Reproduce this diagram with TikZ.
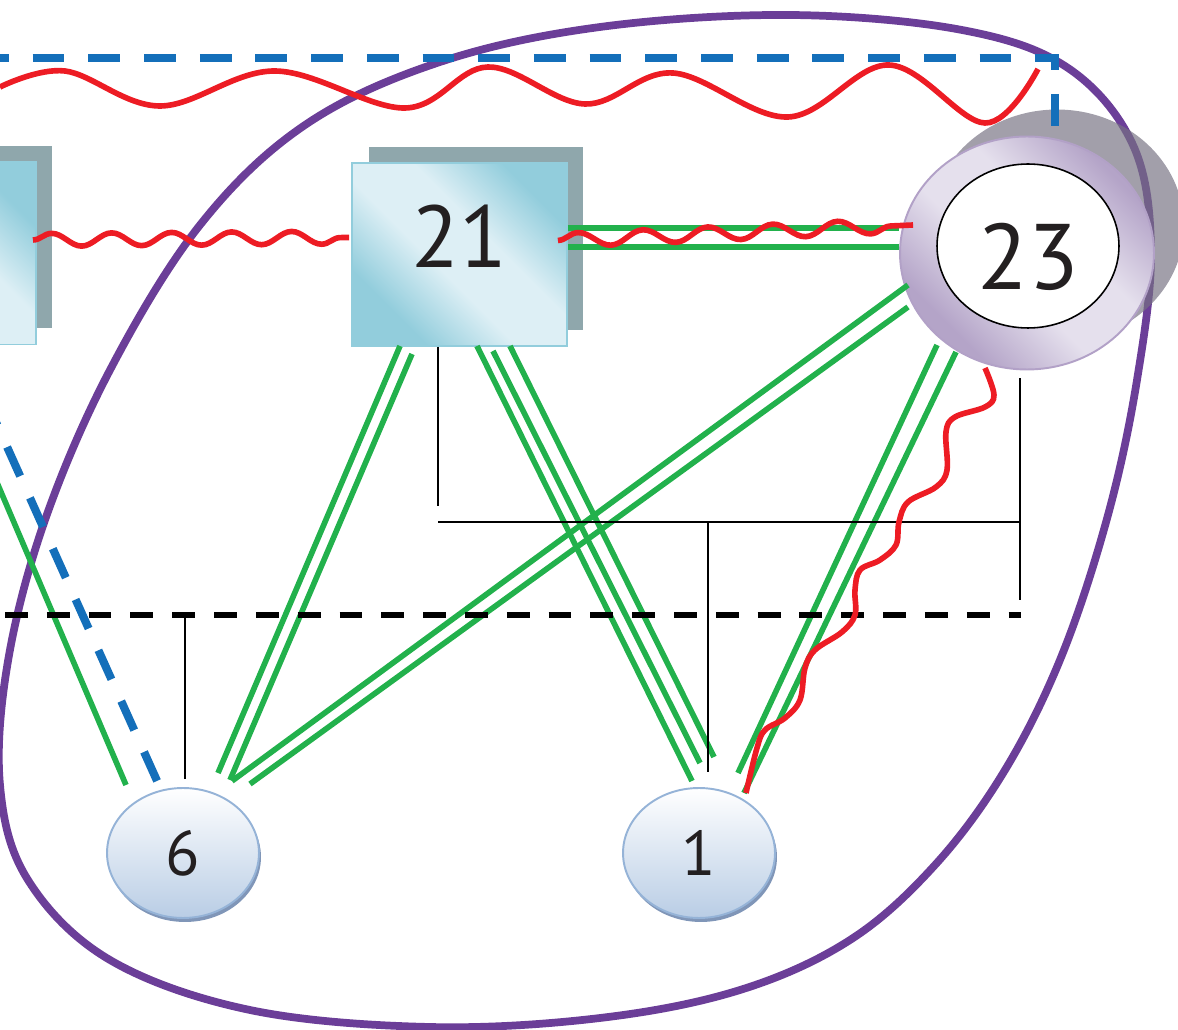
\documentclass[tikz,border=0pt]{standalone}
\usepackage{fontspec}
\setmainfont{PT Sans}
\usepackage{tikz}
\usetikzlibrary{calc,shapes,shadows,decorations.pathmorphing,positioning}

\definecolor{hullc}{RGB}{107,62,152}
\definecolor{vlanc}{RGB}{20,111,186}
\definecolor{wavec}{RGB}{237,28,36}
\definecolor{linkc}{RGB}{34,177,76}
\definecolor{ink}{RGB}{35,31,32}
\definecolor{boxlight}{RGB}{221,239,245}
\definecolor{boxdark}{RGB}{146,205,220}
\definecolor{boxshade}{RGB}{143,167,172}
\definecolor{ringlight}{RGB}{229,224,237}
\definecolor{ringdark}{RGB}{180,164,200}
\definecolor{ringedge}{RGB}{178,161,199}
\definecolor{ringshade}{RGB}{118,113,130}
\definecolor{hostfill}{RGB}{185,205,229}
\definecolor{hostedge}{RGB}{149,179,215}
\definecolor{hostshade}{RGB}{128,150,184}

\pgfdeclarehorizontalshading{glassteal}{100bp}{color(0bp)=(boxdark); color(28bp)=(boxdark); color(44bp)=(boxlight); color(58bp)=(boxlight); color(74bp)=(boxdark); color(100bp)=(boxdark)}
\pgfdeclarehorizontalshading{glasspurple}{100bp}{color(0bp)=(ringdark); color(28bp)=(ringdark); color(44bp)=(ringlight); color(58bp)=(ringlight); color(74bp)=(ringdark); color(100bp)=(ringdark)}

\begin{document}
\begin{tikzpicture}[x=0.02cm,y=-0.02cm,
	box/.style={rectangle, draw=boxdark, line width=1.1pt, shading=glassteal, shading angle=45,
		minimum width=4.3cm, minimum height=3.66cm,
		general shadow={fill=boxshade, shadow xshift=0.33cm, shadow yshift=0.32cm}},
	ring/.style={ellipse, draw=ringedge, line width=1.1pt, shading=glasspurple, shading angle=45,
		minimum width=5.08cm, minimum height=4.66cm,
		general shadow={fill=ringshade, fill opacity=0.68, shadow xshift=0.6cm, shadow yshift=0.54cm}},
	ringin/.style={ellipse, draw=black, line width=0.9pt, fill=white, minimum width=3.64cm, minimum height=3.28cm},
	host/.style={ellipse, draw=hostedge, line width=1.1pt, top color=white, bottom color=hostfill,
		minimum width=3.04cm, minimum height=2.6cm, text=ink, font=\fontsize{36}{40}\selectfont,
		general shadow={fill=hostshade, shadow xshift=0.04cm, shadow yshift=-0.08cm}},
	lbl/.style={text=ink, font=\fontsize{50}{60}\selectfont},
	hull/.style={draw=hullc, line width=4.4pt},
	vlan/.style={draw=vlanc, line width=4.6pt, dash pattern=on 18.1pt off 13.6pt},
	grn/.style={draw=linkc, line width=3.2pt},
	wave/.style={draw=wavec, line width=3.2pt},
	bus/.style={draw=black, line width=3.7pt, dash pattern=on 13pt off 10.8pt},
	wire/.style={draw=black, line width=0.9pt}]
	\useasboundingbox (0,0) rectangle (1178,1030);
	\clip (0,0) rectangle (1178,1030);

	\draw[hull] plot[smooth cycle, tension=0.6] coordinates {(790,15) (962,30) (1068,68) (1133,145)
		(1151,250) (1137,380) (1108,515) (1062,655) (1005,770) (935,865) (850,940) (740,990)
		(600,1018) (430,1027) (250,1010) (110,960) (28,880) (0,785) (8,661) (45,520)
		(110,370) (200,225) (305,125) (440,62) (600,27)};

	\node[box] (bleft) at (-71.5,253) {};
	\node[box] (b21) at (459.5,254.5) {};
	\node[lbl] at ([yshift=0.37cm]b21.center) {21};
	\node[ring] (n23) at (1027,253) {};
	\node[ringin] (n23in) at (1028,246) {};
	\node[lbl, font=\fontsize{53}{60}\selectfont] at ([yshift=-0.22cm]n23in.center) {23};
	\node[host] (n6) at (183,853) {6};
	\node[host] (n1) at (699,853) {1};

	\coordinate (vlanL) at (-23,58);
	\draw[vlan] (vlanL) -| ([shift={(28,-3)}]n23.north);
	\draw[vlan] ([shift={(33,0)}]bleft.south) -- ([shift={(-25,-70)}]n6.center);

	\draw[grn] ([shift={(10,0)}]bleft.south) -- ([shift={(-57,-68)}]n6.center);
	\draw[grn] ([shift={(-59.5,91.5)}]b21.center) -- ([shift={(35,-80)}]n6.center);
	\draw[grn] ([shift={(-47.5,99.5)}]b21.center) -- ([shift={(47,-73)}]n6.center);
	\draw[grn] ([shift={(-119,32)}]n23.center) -- ([shift={(49,-72)}]n6.center);
	\draw[grn] ([shift={(-119,54)}]n23.center) -- ([shift={(67,-69)}]n6.center);
	\draw[grn] ([shift={(17.5,91.5)}]b21.center) -- ([shift={(-7,-72)}]n1.center);
	\draw[grn] ([shift={(33.5,96.5)}]b21.center) -- ([shift={(1,-90)}]n1.center);
	\draw[grn] ([shift={(50.5,91.5)}]b21.center) -- ([shift={(15,-96)}]n1.center);
	\draw[grn] ([shift={(-90,92)}]n23.center) -- ([shift={(39,-80)}]n1.center);
	\draw[grn] ([shift={(-71,99)}]n23.center) -- ([shift={(45,-60)}]n1.center);
	\draw[grn] ([shift={(0,-26.5)}]b21.east) -- ([shift={(0,-25)}]n23.west);
	\draw[grn] ([shift={(0,-7.5)}]b21.east) -- ([shift={(0,-6)}]n23.west);

	\coordinate (busL) at (5,615);
	\coordinate (busR) at (1021,615);
	\draw[bus] (busL) -- (busR);
	\draw[wire] ([shift={(-21.5,0)}]b21.south) -- ++(0,159);
	\draw[wire] (438,522) -- (1020,522);
	\draw[wire] ([shift={(-7,8)}]n23.south) -- (1020,600);
	\draw[wire] (708,522) -- ([shift={(9,-15)}]n1.north);
	\draw[wire] ([shift={(2,-8)}]n6.north) -- (185,617);

	\draw[wave] plot[smooth, tension=0.6] coordinates {(0,87) (65,71) (160,106) (275,71) (405,108)
		(488,67) (585,104) (673,73) (788,117) (889,65) (985,123) (1038,69)};
	\draw[wave, decorate, decoration={snake, segment length=1.2cm, amplitude=0.13cm}]
		([shift={(-4,-13)}]bleft.east) -- ([shift={(-2,-17)}]b21.west);
	\draw[wave, decorate, decoration={snake, segment length=1.3cm, amplitude=0.14cm}]
		([shift={(-10,-14)}]b21.east) -- ([shift={(14,-28)}]n23.west);
	\coordinate (wA) at ([shift={(-42,115)}]n23.center);
	\coordinate (wB) at ([shift={(47,-60)}]n1.center);
	\draw[wave] plot[smooth, tension=0.6] coordinates {(wA) (994,395) (985,407) (955,417) (946,432)
		(947,470) (936,487) (908,502) (899,522) (896,545) (880,560) (860,570) (855,590) (855,615)
		(842,632) (815,650) (805,668) (800,700) (785,718) (765,730) (757,748) (wB)};
\end{tikzpicture}
\end{document}
